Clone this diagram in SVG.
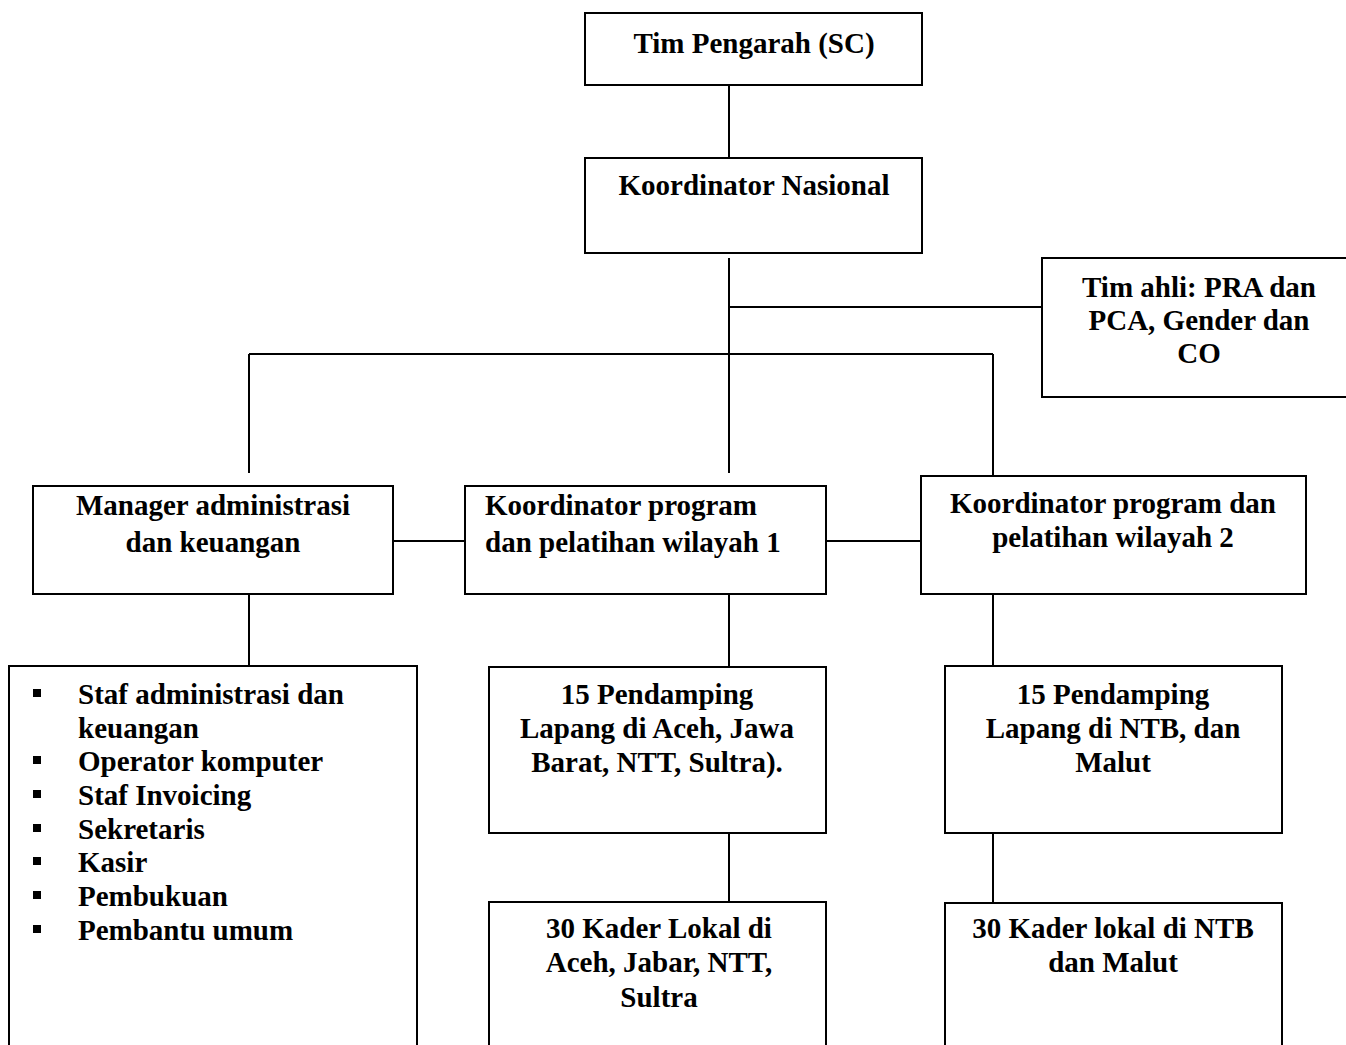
<svg xmlns="http://www.w3.org/2000/svg" width="1346" height="1045" viewBox="0 0 1346 1045">
<style>
.box{fill:#fff;stroke:#000;stroke-width:2}
.ln{stroke:#000;stroke-width:2;fill:none}
text{font-family:"Liberation Serif","Times New Roman",serif;font-weight:bold;font-size:29px;fill:#000}
.c{text-anchor:middle}
.b{fill:#000}
</style>
<rect width="1346" height="1045" fill="#fff"/>
<g id="connectors">
<line class="ln" x1="729" y1="85" x2="729" y2="158"/>
<line class="ln" x1="729" y1="258" x2="729" y2="473"/>
<line class="ln" x1="729" y1="307" x2="1042" y2="307"/>
<line class="ln" x1="249" y1="354" x2="993" y2="354"/>
<line class="ln" x1="249" y1="354" x2="249" y2="473"/>
<line class="ln" x1="993" y1="354" x2="993" y2="476"/>
<line class="ln" x1="393" y1="541" x2="465" y2="541"/>
<line class="ln" x1="826" y1="541" x2="921" y2="541"/>
<line class="ln" x1="249" y1="594" x2="249" y2="666"/>
<line class="ln" x1="729" y1="594" x2="729" y2="667"/>
<line class="ln" x1="993" y1="594" x2="993" y2="666"/>
<line class="ln" x1="729" y1="833" x2="729" y2="902"/>
<line class="ln" x1="993" y1="833" x2="993" y2="903"/>
</g>
<g id="sc">
<rect class="box" x="585" y="13" width="337" height="72"/>
<text class="c" x="754" y="53">Tim Pengarah (SC)</text>
</g>
<g id="kornas">
<rect class="box" x="585" y="158" width="337" height="95"/>
<text class="c" x="754" y="195">Koordinator Nasional</text>
</g>
<g id="timahli">
<rect class="box" x="1042" y="258" width="320" height="139"/>
<text class="c" x="1199" y="297">Tim ahli: PRA dan</text>
<text class="c" x="1199" y="330">PCA, Gender dan</text>
<text class="c" x="1199" y="363">CO</text>
</g>
<g id="manager">
<rect class="box" x="33" y="486" width="360" height="108"/>
<text class="c" x="213" y="515">Manager administrasi</text>
<text class="c" x="213" y="552">dan keuangan</text>
</g>
<g id="wil1">
<rect class="box" x="465" y="486" width="361" height="108"/>
<text x="485" y="515">Koordinator program</text>
<text x="485" y="552">dan pelatihan wilayah 1</text>
</g>
<g id="wil2">
<rect class="box" x="921" y="476" width="385" height="118"/>
<text class="c" x="1113" y="513">Koordinator program dan</text>
<text class="c" x="1113" y="547">pelatihan wilayah 2</text>
</g>
<g id="staf">
<rect class="box" x="9" y="666" width="408" height="400"/>
<rect class="b" x="33" y="689" width="8" height="8"/>
<text x="78" y="704">Staf administrasi dan</text>
<text x="78" y="738">keuangan</text>
<rect class="b" x="33" y="756" width="8" height="8"/>
<text x="78" y="771">Operator komputer</text>
<rect class="b" x="33" y="790" width="8" height="8"/>
<text x="78" y="805">Staf Invoicing</text>
<rect class="b" x="33" y="824" width="8" height="8"/>
<text x="78" y="839">Sekretaris</text>
<rect class="b" x="33" y="857" width="8" height="8"/>
<text x="78" y="872">Kasir</text>
<rect class="b" x="33" y="891" width="8" height="8"/>
<text x="78" y="906">Pembukuan</text>
<rect class="b" x="33" y="925" width="8" height="8"/>
<text x="78" y="940">Pembantu umum</text>
</g>
<g id="pl1">
<rect class="box" x="489" y="667" width="337" height="166"/>
<text class="c" x="657" y="704">15 Pendamping</text>
<text class="c" x="657" y="738">Lapang di Aceh, Jawa</text>
<text class="c" x="657" y="772">Barat, NTT, Sultra).</text>
</g>
<g id="pl2">
<rect class="box" x="945" y="666" width="337" height="167"/>
<text class="c" x="1113" y="704">15 Pendamping</text>
<text class="c" x="1113" y="738">Lapang di NTB, dan</text>
<text class="c" x="1113" y="772">Malut</text>
</g>
<g id="kl1">
<rect class="box" x="489" y="902" width="337" height="160"/>
<text class="c" x="659" y="938">30 Kader Lokal di</text>
<text class="c" x="659" y="972">Aceh, Jabar, NTT,</text>
<text class="c" x="659" y="1007">Sultra</text>
</g>
<g id="kl2">
<rect class="box" x="945" y="903" width="337" height="160"/>
<text class="c" x="1113" y="938">30 Kader lokal di NTB</text>
<text class="c" x="1113" y="972">dan Malut</text>
</g>
</svg>
